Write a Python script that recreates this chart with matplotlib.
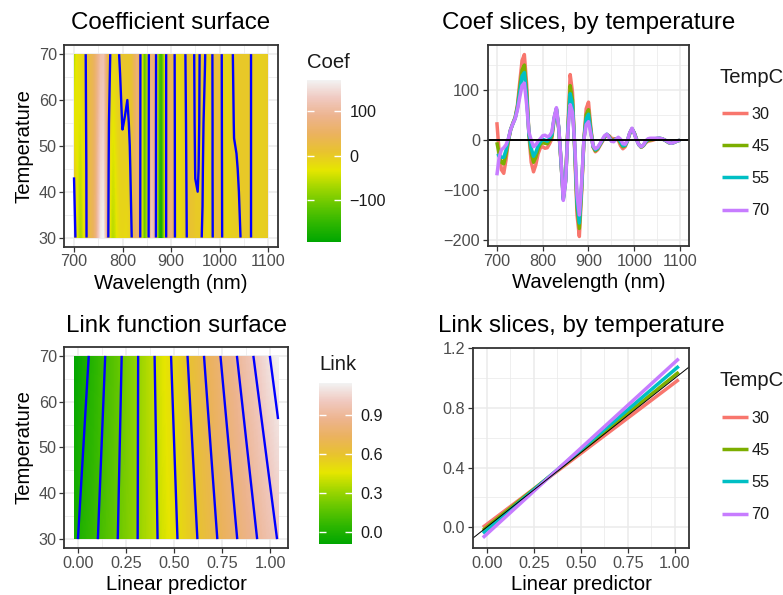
import numpy as np
import matplotlib
matplotlib.use("Agg")
import matplotlib.pyplot as plt
from matplotlib.colors import LinearSegmentedColormap, Normalize
from matplotlib.patches import Rectangle
import matplotlib.cm as cm

plt.rcParams['font.family'] = ['Liberation Sans', 'DejaVu Sans']

# ---------------- data ----------------
wavelength = list(range(700, 1101, 5))
temps = [30, 45, 55, 70]
temp_labels = ['30', '45', '55', '70']

coef_30 = [35, -25, -60, -67, -40, -4, 20, 33, 45, 70,
           115, 158, 170, 110, 8, -45, -64, -50, -28, -16,
           -14, -17, -16, -8, 2, 40, 60, 22, -45, -115,
           -80, 25, 130, 95, -25, -150, -193, -105, 0, 62,
           75, 25, -15, -24, -20, -12, -4, 4, 10, 8,
           3, 2, 2, -1, -12, -18, -14, -3, 12, 21,
           14, 1, -10, -15, -12, -6, -3, -2, -1, 0.5,
           2, 2.5, 2, 0, -3, -6, -7, -6, -4, -2,
           -1]
coef_45 = [-5, -29, -45, -48, -29, -2, 20, 33, 44, 66,
           104, 139, 149, 95, 11, -28, -45, -35, -19, -9,
           -6, -7, -8, -2, 7, 42, 61, 23, -43, -117,
           -82, 21, 108, 80, -19, -135, -177, -98, 0, 50,
           60, 20, -14, -22, -18, -10, -2.5, 5.5, 10, 6.5,
           -0.5, -1, 1.6, 1.2, -7, -14, -12, -2, 13, 22,
           13, 0.3, -10, -15, -11, -4.5, -1, -0.5, 0.5, 1.5,
           2.5, 2.5, 2, 0, -2.5, -5.5, -7, -6, -4, -2,
           -1]
coef_55 = [-32, -31, -35, -35, -21, 0.5, 20, 32, 43, 64,
           96, 127, 134, 85, 12, -17, -33, -25, -12, -5,
           1, -1, -3, 2, 10, 43, 62, 24, -42, -119,
           -83, 19, 92, 70, -16, -125, -166, -92, 0, 42,
           51, 17, -13, -20, -17, -9, -1.5, 6.5, 11, 5.5,
           -2, -2.5, 1.4, 2.8, -4, -12, -11, -2, 13, 22,
           13, -0.3, -10, -14, -11, -3.5, 0.5, 1, 1.5, 2,
           2.5, 3, 2, 0, -2.5, -5.5, -7, -6, -4, -2,
           -1]
coef_70 = [-71, -35, -20, -16, -10, 2, 20, 32, 42, 60,
           85, 108, 113, 70, 15, -1, -14, -10, -3, 2,
           8, 9, 6, 8, 15, 45, 64, 25, -40, -121,
           -85, 15, 70, 55, -10, -110, -150, -85, 0, 30,
           36, 12, -12, -18, -15, -8, 0.5, 8, 11, 4,
           -3, -4, 1, 5, 1, -8, -9, -1, 14, 23,
           12, -1, -10, -14, -10, -2, 2, 3, 3, 3,
           3, 3, 2, 0, -2, -5, -7, -6, -4, -2,
           -1]
coef_series = [coef_30, coef_45, coef_55, coef_70]

# link function surface grid (linear predictor x temperature)
link_grid_x = [-0.02, 1.04]
link_grid_temp = [30, 70]
link_grid = [[-0.02, 1.005],
             [-0.09, 1.15]]
link_levels = [0.0, 0.1, 0.2, 0.3, 0.4, 0.5, 0.6, 0.7, 0.8, 0.9, 1.0, 1.1]

# link slices
link_slice_x = [-0.02, 1.02]
link_30 = [0.00, 0.99]
link_45 = [-0.02, 1.04]
link_55 = [-0.04, 1.08]
link_70 = [-0.07, 1.13]
link_series = [link_30, link_45, link_55, link_70]

# ticks
wl_ticks = [700, 800, 900, 1000, 1100]
wl_minor = [750, 850, 950, 1050]
temp_ticks = [30, 40, 50, 60, 70]
temp_minor = [35, 45, 55, 65]
coef_ticks = [-200, -100, 0, 100]
coef_minor = [-150, -50, 50, 150]
coef_cbar_ticks = [-100, 0, 100]
lp_ticks = [0.0, 0.25, 0.5, 0.75, 1.0]
lp_minor = [0.125, 0.375, 0.625, 0.875]
link_ticks = [0.0, 0.4, 0.8, 1.2]
link_minor = [0.2, 0.6, 1.0]
link_cbar_ticks = [0.0, 0.3, 0.6, 0.9]

# ---------------- style ----------------
terrain_hex = ["#00A600", "#2DB600", "#63C600", "#A0D600", "#E6E600",
               "#E8C32E", "#EBB25E", "#EDB48E", "#F0C9C0", "#F2F2F2"]
terrain = LinearSegmentedColormap.from_list('terrain10', terrain_hex)
hue = ['#F8766D', '#7CAE00', '#00BFC4', '#C77CFF']

W, H = 783, 595
fig = plt.figure(figsize=(W / 100, H / 100), dpi=100)

TICK_FS = 11.7
AX_FS = 14.6
TITLE_FS = 17.4
LW = 2.5


def add_ax(l, t, r, b):
    return fig.add_axes([l / W, 1 - b / H, (r - l) / W, (b - t) / H])


def style(ax, xmaj, xmin, ymaj, ymin):
    ax.set_facecolor('white')
    ax.set_xticks(xmaj)
    ax.set_xticks(xmin, minor=True)
    ax.set_yticks(ymaj)
    ax.set_yticks(ymin, minor=True)
    ax.grid(which='major', color='#EBEBEB', lw=1.1)
    ax.grid(which='minor', color='#EBEBEB', lw=0.55)
    ax.set_axisbelow(True)
    ax.tick_params(which='major', length=3.4, width=0.9, color='#333333',
                   labelsize=TICK_FS, labelcolor='#4D4D4D', pad=2)
    ax.tick_params(which='minor', length=0)
    for s in ax.spines.values():
        s.set_color('#333333')
        s.set_linewidth(1.3)


def colorbar(l, t, r, b, norm, ticks, title, title_base):
    cax = add_ax(l, t, r, b)
    cb = fig.colorbar(cm.ScalarMappable(norm=norm, cmap=terrain), cax=cax)
    cb.outline.set_visible(False)
    cb.set_ticks(ticks)
    cb.minorticks_off()
    cax.tick_params(which='major', left=True, right=True, direction='in',
                    length=4.8, width=1.0, color='white', labelsize=TICK_FS,
                    labelcolor='#1A1A1A', pad=6.3)
    fig.text(l / W, 1 - title_base / H, title, fontsize=AX_FS,
             va='baseline', ha='left', color='#1A1A1A')
    return cb


def legend(ax, title_base, first_top):
    h, lab = ax.get_legend_handles_labels()
    fig.text(720 / W, 1 - title_base / H, 'TempC', fontsize=AX_FS,
             va='baseline', ha='left', color='#1A1A1A')
    leg = ax.legend(h, lab, loc='upper left',
                    bbox_to_anchor=(721.5 / W, 1 - first_top / H),
                    bbox_transform=fig.transFigure,
                    frameon=False, fontsize=TICK_FS,
                    handlelength=1.6, handletextpad=0.25, labelspacing=1.05,
                    borderpad=0, borderaxespad=0)
    for t in leg.get_texts():
        t.set_color('#1A1A1A')
    return leg


def fill_levels(z):
    span = z.max() - z.min()
    return np.linspace(z.min() - 1e-4 * span, z.max() + 1e-4 * span, 300)


# ---------------- panel 1: coefficient surface ----------------
Z = np.array(coef_series, dtype=float)
cnorm = Normalize(vmin=Z.min(), vmax=Z.max())
ax1 = add_ax(64.3, 45, 277.7, 246.7)
style(ax1, wl_ticks, wl_minor, temp_ticks, temp_minor)
ax1.contourf(wavelength, temps, Z, levels=fill_levels(Z), cmap=terrain,
             norm=cnorm, antialiased=False)
ax1.contour(wavelength, temps, Z, levels=[0], colors='#0000FF', linewidths=1.7)
ax1.set_xlim(680, 1120)
ax1.set_ylim(28, 72)
ax1.set_title('Coefficient surface', fontsize=TITLE_FS, pad=11.3)
ax1.set_xlabel('Wavelength (nm)', fontsize=AX_FS, labelpad=3.3)
ax1.set_ylabel('Temperature', fontsize=AX_FS, labelpad=4)
colorbar(306.7, 80, 340.7, 242, cnorm, coef_cbar_ticks, 'Coef', 68.3)

# ---------------- panel 2: coef slices ----------------
ax2 = add_ax(487.7, 45, 689.3, 246)
style(ax2, wl_ticks, wl_minor, coef_ticks, coef_minor)
for vals, col, lab in zip(coef_series, hue, temp_labels):
    ax2.plot(wavelength, vals, color=col, lw=LW, label=lab,
             solid_joinstyle='round', solid_capstyle='butt')
ax2.axhline(0, color='black', lw=1.4)
ax2.set_xlim(680, 1120)
ax2.set_ylim(-212, 189)
ax2.set_title('Coef slices, by temperature', fontsize=TITLE_FS, pad=11.3)
ax2.set_xlabel('Wavelength (nm)', fontsize=AX_FS, labelpad=3.3)
legend(ax2, 83.3, 107)

# ---------------- panel 3: link function surface ----------------
LZ = np.array(link_grid, dtype=float)
lnorm = Normalize(vmin=LZ.min(), vmax=LZ.max())
ax3 = add_ax(64.3, 346.7, 287.7, 548.3)
style(ax3, lp_ticks, lp_minor, temp_ticks, temp_minor)
gx0, gx1 = link_grid_x[0], link_grid_x[-1]
gy0, gy1 = link_grid_temp[0], link_grid_temp[-1]
hx = (gx1 - gx0) / (len(link_grid_x) - 1) / 2
hy = (gy1 - gy0) / (len(link_grid_temp) - 1) / 2
im = ax3.imshow(LZ, origin='lower', cmap=terrain, norm=lnorm, aspect='auto',
                interpolation='bilinear', interpolation_stage='data',
                extent=[gx0 - hx, gx1 + hx, gy0 - hy, gy1 + hy], zorder=1)
im.set_clip_path(Rectangle((gx0, gy0), gx1 - gx0, gy1 - gy0,
                           transform=ax3.transData))
ax3.contour(link_grid_x, link_grid_temp, LZ, levels=link_levels, colors='#0000FF',
            linewidths=1.7, zorder=2)
ax3.set_xlim(-0.07, 1.09)
ax3.set_ylim(28, 72)
ax3.set_title('Link function surface', fontsize=TITLE_FS, pad=10.8)
ax3.set_xlabel('Linear predictor', fontsize=AX_FS, labelpad=3.3)
ax3.set_ylabel('Temperature', fontsize=AX_FS, labelpad=4)
colorbar(319, 383, 351.7, 544, lnorm, link_cbar_ticks, 'Link', 370)

# ---------------- panel 4: link slices ----------------
ax4 = add_ax(472.7, 347.7, 689.3, 548.3)
style(ax4, lp_ticks, lp_minor, link_ticks, link_minor)
for vals, col, lab in zip(link_series, hue, temp_labels):
    ax4.plot(link_slice_x, vals, color=col, lw=LW, label=lab, solid_capstyle='butt')
ax4.axline((0, 0), slope=1, color='black', lw=0.7)
ax4.set_xlim(-0.074, 1.076)
ax4.set_ylim(-0.141, 1.204)
ax4.set_title('Link slices, by temperature', fontsize=TITLE_FS, pad=11.0)
ax4.set_xlabel('Linear predictor', fontsize=AX_FS, labelpad=3.3)
legend(ax4, 386, 411)

fig.savefig('out.png', dpi=100, facecolor='white')
